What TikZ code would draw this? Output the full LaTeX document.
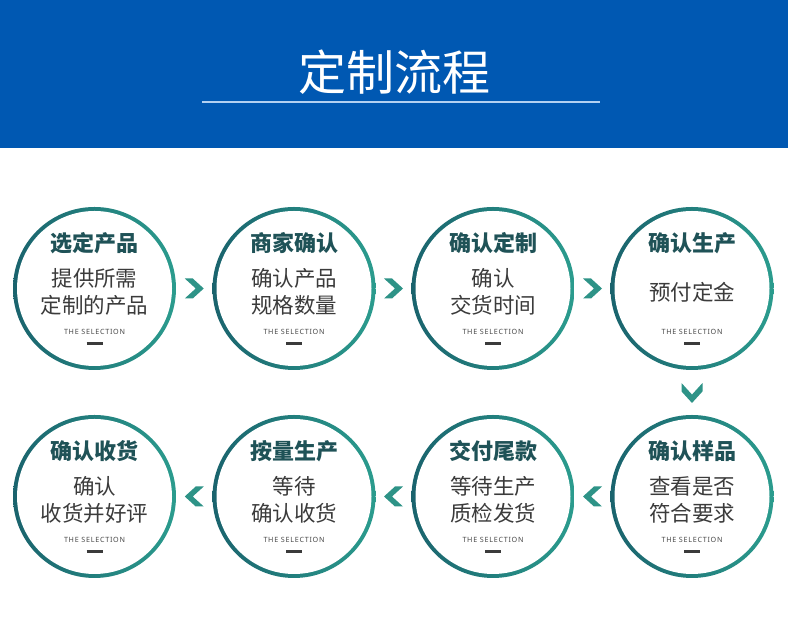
\documentclass[tikz,border=0pt]{standalone}
\usepackage{fontspec}
\setmainfont{Noto Sans CJK SC}
\newfontfamily\selfont[LetterSpace=10]{Noto Sans}
\usetikzlibrary{calc}
\definecolor{bannerblue}{HTML}{0058B2}
\definecolor{rulelight}{HTML}{B3D1F2}
\definecolor{ringL}{HTML}{1A636D}
\definecolor{ringR}{HTML}{2B9C8E}
\definecolor{chevcol}{HTML}{2E9387}
\definecolor{titleteal}{HTML}{1F5257}
\definecolor{bodygray}{HTML}{3B3B3B}
\definecolor{selgray}{HTML}{4A4A4A}

% one stage: name, position, title, body
\newcommand{\flowstage}[4]{%
  \node[ring] (#1) at (#2) {};
  \node[stagetitle] at ($(#1)+(0,45)$) {#3};
  \node[stagebody] at ($(#1)+(0,-3.5)$) {#4};
  \node[selnote] at ($(#1)+(0,-43.5)$) {THE SELECTION};
  \draw[dashmark] ($(#1)+(-8,-55)$) -- ($(#1)+(8,-55)$);
}

\begin{document}
\begin{tikzpicture}[x=1pt,y=1pt,
ring/.style={circle,minimum size=163pt,inner sep=0pt,
  path picture={\shade[left color=ringL,right color=ringR]
    (path picture bounding box.south west) rectangle (path picture bounding box.north east);
    \fill[white] (path picture bounding box.center) circle (77.5);}},
stagetitle/.style={text=titleteal,font=\fontsize{22}{26}\selectfont\bfseries,inner sep=0pt},
stagebody/.style={text=bodygray,font=\fontsize{21.5}{27.5}\selectfont,align=center,inner sep=0pt},
selnote/.style={text=selgray,font=\selfont\fontsize{7.2}{9}\selectfont,inner sep=0pt},
dashmark/.style={line width=3pt,draw=bodygray},
chevron/.pic={\fill[chevcol] (-9.5,10) -- (-1.5,10) -- (9.5,0) -- (-1.5,-10) -- (-9.5,-10) -- (1.5,0) -- cycle;}]
\useasboundingbox (0,0) rectangle (788,620);
\fill[white] (0,0) rectangle (788,620);
% banner
\fill[bannerblue] (0,472) rectangle (788,620);
\node[text=white,font=\fontsize{48}{52}\selectfont,inner sep=0pt] (heading) at (394,548) {定制流程};
\coordinate (ruleL) at (202,518);
\coordinate (ruleR) at (600,518);
\draw[rulelight,line width=2pt] (ruleL) -- (ruleR);
% top row
\flowstage{s1}{94.5,331.5}{选定产品}{提供所需\\定制的产品}
\flowstage{s2}{294,331.5}{商家确认}{确认产品\\规格数量}
\flowstage{s3}{493,331.5}{确认定制}{确认\\交货时间}
\flowstage{s4}{692,331.5}{确认生产}{预付定金}
% bottom row
\flowstage{s5}{692,123.5}{确认样品}{查看是否\\符合要求}
\flowstage{s6}{493,123.5}{交付尾款}{等待生产\\质检发货}
\flowstage{s7}{294,123.5}{按量生产}{等待\\确认收货}
\flowstage{s8}{94.5,123.5}{确认收货}{确认\\收货并好评}
% chevrons between stages
\pic at ($(s1)!.5!(s2)$) {chevron};
\pic at ($(s2)!.5!(s3)$) {chevron};
\pic at ($(s3)!.5!(s4)$) {chevron};
\pic[rotate=-90,scale=1.05] at ($(s4)!.5!(s5)+(0,-0.5)$) {chevron};
\pic[rotate=180] at ($(s5)!.5!(s6)$) {chevron};
\pic[rotate=180] at ($(s6)!.5!(s7)$) {chevron};
\pic[rotate=180] at ($(s7)!.5!(s8)$) {chevron};
\end{tikzpicture}
\end{document}
